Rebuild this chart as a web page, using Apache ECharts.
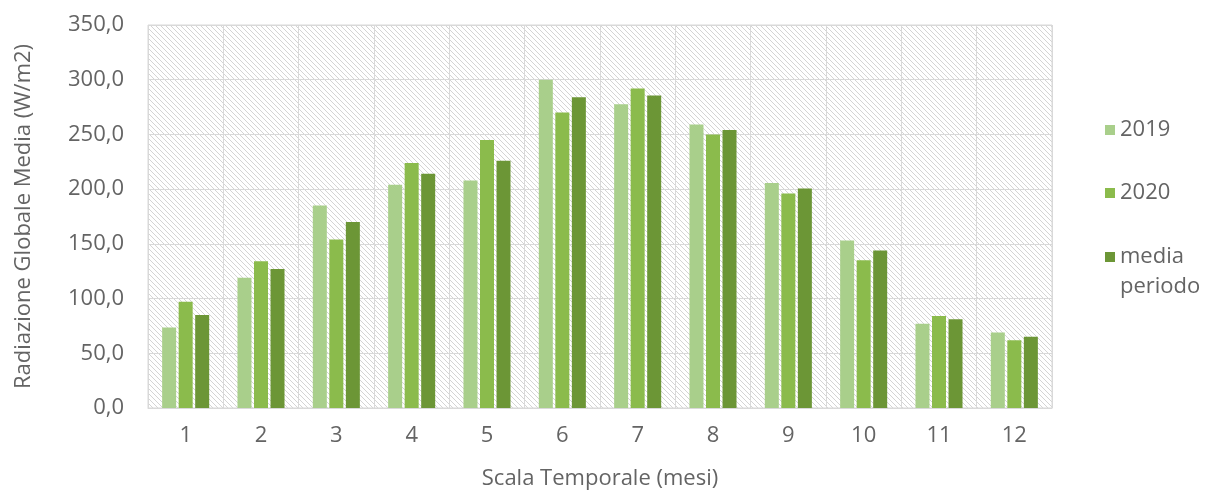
<!DOCTYPE html>
<html>
<head>
<meta charset="utf-8">
<script src="https://cdn.jsdelivr.net/npm/echarts@6/dist/echarts.min.js"></script>
<style>html,body{margin:0;padding:0;background:#fff}#c{width:1208px;height:495px}</style>
</head>
<body>
<div id="c"></div>
<script>
const months = ['1','2','3','4','5','6','7','8','9','10','11','12'];
const seriesNames = ['2019','2020','media periodo'];
const v2019 = [73.5,119,185,204,208,300,277.5,259,205.5,153,77,69];
const v2020 = [97,134,154,224,245,270,292,250,196,135,84,62];
const vMedia = [85,127,170,214,226,284,285.5,254,200.5,144,81,65];
const yTicks = {min:0, max:350, interval:50};

const colors = ['#a9cf8b','#8bbb4c','#6c9636'];
const txt = '#646464';
const font = 'Open Sans';

// hatch pattern for plot background
const pc = document.createElement('canvas');
const s = 5;
pc.width = s; pc.height = s;
const g = pc.getContext('2d');
g.fillStyle = '#ffffff'; g.fillRect(0,0,s,s);
g.strokeStyle = '#d4d4d4'; g.lineWidth = 1;
g.beginPath();
g.moveTo(-1,-1); g.lineTo(s+1,s+1);
g.moveTo(-1,s-1); g.lineTo(1,s+1);
g.moveTo(s-1,-1); g.lineTo(s+1,1);
g.stroke();

const chart = echarts.init(document.getElementById('c'), null, {renderer:'canvas'});
const fmt = v => v.toFixed(1).replace('.', ',');
chart.setOption({
  animation:false,
  backgroundColor:'#ffffff',
  textStyle:{fontFamily:font, color:txt},
  grid:{left:148, right:156, top:25, bottom:85, show:true,
        backgroundColor:{image:pc, repeat:'repeat'}, borderColor:'#d9d9d9', borderWidth:1},
  legend:[
    {data:[seriesNames[0], seriesNames[1]], orient:'vertical', left:1100, top:110,
     itemWidth:10, itemHeight:10, itemGap:33, icon:'rect',
     textStyle:{fontFamily:font, fontSize:22, color:txt, lineHeight:30}},
    {data:[seriesNames[2]], orient:'vertical', left:1100, top:207,
     itemWidth:10, itemHeight:10, icon:'rect',
     formatter: n => '\n' + n.replace(' ', '\n'),
     textStyle:{fontFamily:font, fontSize:22, color:txt, lineHeight:30}}
  ],
  xAxis:{
    type:'category', data:months,
    name:'Scala Temporale (mesi)', nameLocation:'middle', nameGap:60,
    nameTextStyle:{fontFamily:font, fontSize:22, color:txt},
    axisLine:{show:true, lineStyle:{color:'#d9d9d9'}},
    axisTick:{show:false},
    axisLabel:{fontFamily:font, fontSize:22, color:txt, margin:17},
    splitLine:{show:true, interval:0, lineStyle:{color:'#d9d9d9', width:1}}
  },
  yAxis:{
    type:'value', min:yTicks.min, max:yTicks.max, interval:yTicks.interval,
    name:'Radiazione Globale Media (W/m2)', nameLocation:'middle', nameGap:113,
    nameTextStyle:{fontFamily:font, fontSize:22, color:txt},
    axisLine:{show:false}, axisTick:{show:false},
    axisLabel:{fontFamily:font, fontSize:22, color:txt, margin:24, formatter:fmt},
    splitLine:{show:true, lineStyle:{color:'#d9d9d9', width:1}}
  },
  series:[
    {name:seriesNames[0], type:'bar', data:v2019, itemStyle:{color:colors[0]}, barWidth:14, barGap:'18%'},
    {name:seriesNames[1], type:'bar', data:v2020, itemStyle:{color:colors[1]}, barWidth:14, barGap:'18%'},
    {name:seriesNames[2], type:'bar', data:vMedia, itemStyle:{color:colors[2]}, barWidth:14, barGap:'18%'}
  ]
});
</script>
</body>
</html>
